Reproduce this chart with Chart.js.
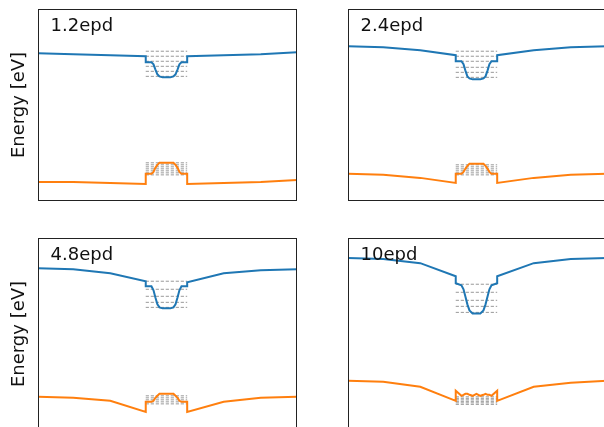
<!DOCTYPE html>
<html>
<head>
<meta charset="utf-8">
<script src="https://cdn.jsdelivr.net/npm/chart.js@4.4.1/dist/chart.umd.min.js"></script>
<style>
  html, body { margin: 0; padding: 0; background: #fff; overflow: hidden; width: 604px; height: 427px; }
  canvas { position: absolute; }
</style>
</head>
<body>
<canvas id="p0" width="297" height="192" style="left:0px;top:9px"></canvas>
<canvas id="p1" width="259" height="192" style="left:348px;top:9px"></canvas>
<canvas id="p2" width="297" height="192" style="left:0px;top:238px"></canvas>
<canvas id="p3" width="259" height="192" style="left:348px;top:238px"></canvas>
<script>
// position along the structure (same grid for every panel), well between the two steps
const xGrid = [0, 13.6, 27.9, 41.6, 41.6, 43.8, 44.6, 45.3, 46.1, 46.9, 48.1, 49.6, 51.1, 52.3, 53.1, 53.9, 54.6, 55.4, 57.6, 57.6, 71.7, 86, 100];
const wellEdges = [41.6, 57.6];
const panelNames = ['1.2epd', '2.4epd', '4.8epd', '10epd'];

// 1.2epd
const cb12 = [1.47, 1.46, 1.45, 1.44, 1.38, 1.38, 1.36, 1.31, 1.26, 1.24, 1.23, 1.23, 1.23, 1.24, 1.26, 1.31, 1.36, 1.38, 1.38, 1.44, 1.45, 1.46, 1.48];
const vb12 = [0.19, 0.19, 0.18, 0.17, 0.27, 0.27, 0.29, 0.33, 0.36, 0.38, 0.38, 0.38, 0.38, 0.38, 0.36, 0.33, 0.29, 0.27, 0.27, 0.17, 0.18, 0.19, 0.21];
const cbLev12 = [1.49, 1.44, 1.39, 1.34, 1.29, 1.24];
const vbLev12 = [0.38, 0.36, 0.34, 0.32, 0.30, 0.28, 0.26];

// 2.4epd
const cb24 = [1.54, 1.53, 1.50, 1.45, 1.39, 1.39, 1.36, 1.30, 1.24, 1.22, 1.21, 1.21, 1.21, 1.22, 1.24, 1.30, 1.36, 1.39, 1.39, 1.45, 1.50, 1.53, 1.54];
const vb24 = [0.27, 0.26, 0.23, 0.18, 0.27, 0.27, 0.29, 0.32, 0.35, 0.37, 0.37, 0.37, 0.37, 0.37, 0.35, 0.32, 0.29, 0.27, 0.27, 0.18, 0.23, 0.26, 0.27];
const cbLev24 = [1.49, 1.44, 1.39, 1.33, 1.28, 1.23];
const vbLev24 = [0.36, 0.34, 0.32, 0.30, 0.28, 0.26];

// 4.8epd
const cb48 = [1.61, 1.60, 1.56, 1.48, 1.43, 1.43, 1.39, 1.32, 1.25, 1.22, 1.21, 1.21, 1.21, 1.22, 1.25, 1.32, 1.39, 1.43, 1.43, 1.47, 1.56, 1.59, 1.60];
const vb48 = [0.33, 0.32, 0.29, 0.18, 0.28, 0.28, 0.29, 0.32, 0.34, 0.36, 0.36, 0.36, 0.36, 0.36, 0.34, 0.32, 0.29, 0.28, 0.28, 0.18, 0.28, 0.32, 0.33];
const cbLev48 = [1.48, 1.40, 1.33, 1.27, 1.22];
const vbLev48 = [0.34, 0.32, 0.30, 0.28, 0.26];

// 10epd
const cb10 = [1.71, 1.70, 1.66, 1.53, 1.46, 1.44, 1.40, 1.33, 1.25, 1.19, 1.16, 1.16, 1.16, 1.19, 1.25, 1.33, 1.40, 1.44, 1.46, 1.53, 1.66, 1.70, 1.71];
const vb10 = [0.49, 0.48, 0.43, 0.29, 0.39, 0.34, 0.35, 0.36, 0.36, 0.35, 0.34, 0.36, 0.34, 0.35, 0.36, 0.35, 0.35, 0.34, 0.39, 0.29, 0.43, 0.47, 0.49];
const cbLev10 = [1.45, 1.37, 1.29, 1.23, 1.17];
const vbLev10 = [0.33, 0.315, 0.30, 0.285, 0.27, 0.255];

const panels = [
  { cb: cb12, vb: vb12, cbLev: cbLev12, vbLev: vbLev12 },
  { cb: cb24, vb: vb24, cbLev: cbLev24, vbLev: vbLev24 },
  { cb: cb48, vb: vb48, cbLev: cbLev48, vbLev: vbLev48 },
  { cb: cb10, vb: vb10, cbLev: cbLev10, vbLev: vbLev10 }
];

// black frame + panel name in the top left corner
const framePlugin = {
  id: 'frame',
  afterDraw(chart, args, opts) {
    const { ctx, chartArea: a } = chart;
    ctx.save();
    ctx.strokeStyle = '#222';
    ctx.lineWidth = 1;
    ctx.strokeRect(a.left + 0.5, a.top + 0.5, a.right - a.left - 1, a.bottom - a.top - 1);
    ctx.fillStyle = '#111';
    ctx.font = '18px "DejaVu Sans"';
    ctx.textBaseline = 'alphabetic';
    ctx.fillText(opts.text, a.left + 12.5, a.top + 22);
    ctx.restore();
  }
};

const band = (ys, color) => ({
  data: xGrid.map((x, i) => ({ x: x, y: ys[i] })),
  borderColor: color,
  borderWidth: 2,
  pointRadius: 0,
  order: 0
});

const level = (e) => ({
  data: wellEdges.map(x => ({ x: x, y: e })),
  borderColor: 'rgba(95,95,95,0.8)',
  borderWidth: 0.8,
  borderDash: [3.2, 1.8],
  pointRadius: 0,
  order: 1
});

panels.forEach((p, k) => {
  const leftCol = k % 2 === 0;
  const datasets = [band(p.cb, '#1f77b4'), band(p.vb, '#ff7f0e')]
    .concat(p.cbLev.map(level), p.vbLev.map(level));

  new Chart(document.getElementById('p' + k).getContext('2d'), {
    type: 'line',
    data: { datasets: datasets },
    options: {
      responsive: false,
      animation: false,
      layout: { padding: 0 },
      scales: {
        x: { type: 'linear', display: false, min: 0, max: 100 },
        y: {
          display: leftCol,
          min: 0,
          max: 1.91,
          ticks: { display: false },
          grid: { display: false },
          border: { display: false },
          title: {
            display: leftCol,
            text: 'Energy [eV]',
            color: '#111',
            font: { family: 'DejaVu Sans', size: 18 },
            padding: { top: 9, bottom: 0 }
          },
          afterFit(axis) { axis.width = leftCol ? 38 : 0; }
        }
      },
      plugins: {
        legend: { display: false },
        tooltip: { enabled: false },
        frame: { text: panelNames[k] }
      }
    },
    plugins: [framePlugin]
  });
});
</script>
</body>
</html>
